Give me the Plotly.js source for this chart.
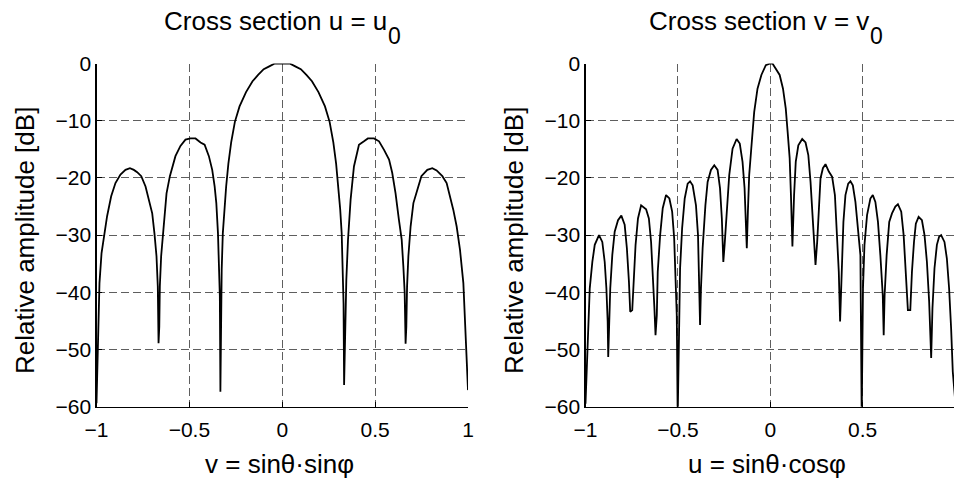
<!DOCTYPE html>
<html>
<head>
<meta charset="utf-8">
<script src="https://cdn.plot.ly/plotly-3.0.1.min.js"></script>
<style>
html,body{margin:0;padding:0;overflow:hidden;background:#fff;}
#chart{width:958px;height:479px;}
</style>
</head>
<body>
<div id="chart"></div>
<script>
// ---- data ----
const leftV = [-1.000,-0.991,-0.984,-0.973,-0.960,-0.943,-0.921,-0.898,-0.871,-0.844,-0.820,-0.799,-0.781,-0.759,-0.736,-0.718,-0.700,-0.688,-0.677,-0.670,-0.666,-0.662,-0.659,-0.652,-0.641,-0.623,-0.605,-0.575,-0.548,-0.521,-0.494,-0.467,-0.440,-0.418,-0.395,-0.377,-0.364,-0.355,-0.346,-0.341,-0.336,-0.333,-0.329,-0.326,-0.320,-0.312,-0.302,-0.290,-0.275,-0.255,-0.230,-0.195,-0.160,-0.130,-0.100,-0.070,-0.040,0,0.040,0.070,0.100,0.130,0.160,0.195,0.230,0.255,0.275,0.290,0.302,0.312,0.320,0.326,0.330,0.333,0.338,0.345,0.354,0.368,0.386,0.413,0.440,0.461,0.494,0.521,0.548,0.575,0.592,0.610,0.628,0.643,0.652,0.659,0.664,0.668,0.672,0.679,0.691,0.706,0.727,0.749,0.781,0.808,0.831,0.862,0.885,0.903,0.921,0.939,0.957,0.975,0.987,1.000];
const leftDb = [-59.4,-46.6,-38.4,-33.2,-30.2,-26.7,-23.2,-20.9,-19.4,-18.6,-18.3,-18.6,-19.0,-19.7,-21.5,-23.8,-26.2,-29.7,-33.7,-39.0,-48.9,-46.0,-39.0,-33.7,-29.1,-22.7,-19.7,-16.2,-14.4,-13.3,-13.1,-13.1,-13.8,-14.2,-16.2,-18.6,-21.5,-24.4,-29.7,-35.5,-40.7,-57.4,-42.0,-36.0,-29.7,-25.5,-21.5,-17.5,-13.8,-10.2,-7.5,-5.0,-3.1,-2.0,-1.0,-0.5,0,0,0,-0.5,-1.0,-2.0,-3.1,-5.0,-7.5,-10.2,-13.8,-17.5,-21.5,-25.5,-29.7,-36.0,-42.0,-56.2,-46.6,-37.8,-30.8,-23.8,-18.0,-14.2,-13.6,-13.1,-13.1,-13.6,-15.1,-16.8,-19.1,-22.7,-27.3,-30.8,-35.5,-40.0,-49.0,-46.0,-39.0,-33.7,-28.5,-24.4,-22.1,-19.7,-18.6,-18.3,-18.7,-19.7,-20.9,-23.2,-25.6,-28.5,-32.6,-38.4,-46.6,-57.1];

const rightU = [-1.000,-0.986,-0.977,-0.963,-0.950,-0.927,-0.909,-0.896,-0.887,-0.880,-0.877,-0.873,-0.866,-0.855,-0.842,-0.824,-0.806,-0.788,-0.776,-0.765,-0.758,-0.747,-0.740,-0.729,-0.716,-0.699,-0.672,-0.657,-0.645,-0.636,-0.627,-0.621,-0.614,-0.609,-0.596,-0.582,-0.564,-0.546,-0.531,-0.520,-0.513,-0.506,-0.501,-0.495,-0.488,-0.477,-0.463,-0.447,-0.434,-0.420,-0.402,-0.391,-0.384,-0.380,-0.375,-0.366,-0.351,-0.339,-0.321,-0.303,-0.285,-0.272,-0.262,-0.254,-0.247,-0.236,-0.222,-0.204,-0.182,-0.165,-0.150,-0.139,-0.132,-0.127,-0.121,-0.114,-0.103,-0.087,-0.069,-0.048,-0.024,0,0.012,0.030,0.051,0.069,0.084,0.094,0.105,0.112,0.120,0.129,0.138,0.152,0.173,0.191,0.206,0.218,0.227,0.236,0.245,0.254,0.263,0.272,0.285,0.299,0.317,0.335,0.350,0.360,0.371,0.378,0.386,0.396,0.407,0.422,0.434,0.447,0.461,0.475,0.488,0.495,0.502,0.510,0.524,0.542,0.555,0.569,0.583,0.596,0.609,0.614,0.619,0.630,0.644,0.659,0.677,0.691,0.709,0.722,0.731,0.740,0.745,0.758,0.767,0.778,0.788,0.803,0.821,0.835,0.848,0.860,0.871,0.878,0.889,0.902,0.914,0.925,0.943,0.956,0.968,0.979,0.988,1.000];
const rightDb = [-59.5,-48.0,-39.3,-34.7,-31.7,-30.0,-31.2,-34.7,-39.3,-45.1,-51.3,-46.9,-39.3,-33.5,-29.4,-27.4,-26.6,-28.2,-32.3,-38.1,-43.4,-43.1,-38.1,-31.7,-27.1,-24.8,-25.5,-27.1,-31.2,-36.4,-42.8,-47.5,-44.0,-36.4,-30.0,-25.3,-23.0,-23.6,-25.9,-30.6,-35.8,-44.0,-62.0,-46.3,-35.8,-28.8,-23.6,-21.0,-20.6,-21.3,-24.8,-30.0,-39.3,-45.7,-39.3,-32.3,-24.8,-20.7,-18.6,-17.8,-18.6,-21.8,-27.1,-34.7,-31.7,-25.3,-19.5,-14.9,-13.2,-14.0,-17.2,-21.8,-26.5,-32.3,-25.9,-19.5,-15.0,-8.5,-4.4,-2.0,-0.3,0,0,-0.9,-2.0,-4.4,-7.9,-11.9,-16.5,-23.0,-32.0,-23.0,-17.2,-14.3,-13.2,-13.8,-16.0,-20.7,-25.3,-30.0,-35.2,-31.2,-24.2,-20.1,-18.3,-17.6,-18.9,-19.8,-23.0,-28.8,-36.4,-45.1,-35.8,-27.7,-23.0,-21.0,-20.6,-21.3,-24.2,-28.8,-33.5,-62.0,-39.3,-31.7,-26.5,-23.6,-23.0,-24.2,-27.7,-33.5,-40.5,-47.5,-40.5,-33.5,-27.7,-26.2,-25.0,-24.6,-25.9,-30.0,-34.7,-39.3,-43.1,-43.1,-36.4,-31.2,-28.0,-26.8,-27.4,-30.0,-34.7,-41.6,-51.5,-42.8,-35.8,-31.7,-30.3,-30.0,-31.2,-34.1,-39.3,-46.3,-53.9,-58.5];

const xTicks = [-1, -0.5, 0, 0.5, 1];
const yTicks = [0, -10, -20, -30, -40, -50, -60];
const titleLeftMain = "Cross section u = u";
const titleRightMain = "Cross section v = v";
const titleSub = "0";
const xLabelLeft = "v = sin\u03B8\u00B7sin\u03C6";
const xLabelRight = "u = sin\u03B8\u00B7cos\u03C6";
const yLabel = "Relative amplitude [dB]";

// ---- layout ----
const W = 958, H = 479;
const px = x => x / W;
const py = y => 1 - y / H;
const FONT = "Liberation Sans, Arial, Helvetica, sans-serif";

function axisX(domain, anchor) {
  return {
    domain: domain, anchor: anchor, range: [-1, 1], tickvals: xTicks,
    showgrid: true, gridcolor: "#5e5e5e", griddash: "8px,4px", gridwidth: 1,
    zeroline: false, showline: true, linecolor: "#000", linewidth: 1.2,
    ticks: "inside", ticklen: 5, tickcolor: "#000", tickwidth: 1,
    ticklabelstandoff: 4,
    tickfont: {family: FONT, size: 21, color: "#000"}, fixedrange: true
  };
}
function axisY(anchor) {
  return {
    domain: [py(406.7), py(63.5)], anchor: anchor, range: [-60, 0], tickvals: yTicks,
    showgrid: true, gridcolor: "#5e5e5e", griddash: "8px,4px", gridwidth: 1,
    zeroline: false, showline: true, linecolor: "#000", linewidth: 1.2,
    ticks: "inside", ticklen: 5, tickcolor: "#000", tickwidth: 1,
    tickfont: {family: FONT, size: 21, color: "#000"}, fixedrange: true
  };
}

const traces = [
  {x: leftV, y: leftDb, xaxis: "x", yaxis: "y", mode: "lines",
   line: {color: "#000", width: 1.8}, hoverinfo: "skip"},
  {x: rightU, y: rightDb, xaxis: "x2", yaxis: "y2", mode: "lines",
   line: {color: "#000", width: 1.8}, hoverinfo: "skip"}
];

function ann(text, x, y, xa, ya, size, angle) {
  return {text: text, x: px(x), y: py(y), xref: "paper", yref: "paper",
    xanchor: xa, yanchor: ya, showarrow: false, textangle: angle || 0,
    borderpad: 0, borderwidth: 0,
    font: {family: FONT, size: size, color: "#000"}};
}

const layout = {
  width: W, height: H, margin: {l: 0, r: 0, t: 0, b: 0},
  paper_bgcolor: "#fff", plot_bgcolor: "#fff", showlegend: false,
  xaxis: axisX([px(96.5), px(468)], "y"),
  yaxis: axisY("x"),
  xaxis2: axisX([px(585.5), px(955)], "y2"),
  yaxis2: axisY("x2"),
  annotations: [
    ann(titleLeftMain, 387, 36, "right", "bottom", 26),
    ann(titleSub, 388, 49, "left", "bottom", 23),
    ann(titleRightMain, 868.5, 36, "right", "bottom", 26),
    ann(titleSub, 869.5, 49, "left", "bottom", 23),
    ann(xLabelLeft, 279, 463.5, "center", "middle", 26),
    ann(xLabelRight, 767, 463.5, "center", "middle", 26),
    ann(yLabel, 25, 241, "center", "middle", 26, -90),
    ann(yLabel, 514, 241, "center", "middle", 26, -90)
  ]
};

Plotly.newPlot("chart", traces, layout, {staticPlot: true, displayModeBar: false});
</script>
</body>
</html>
